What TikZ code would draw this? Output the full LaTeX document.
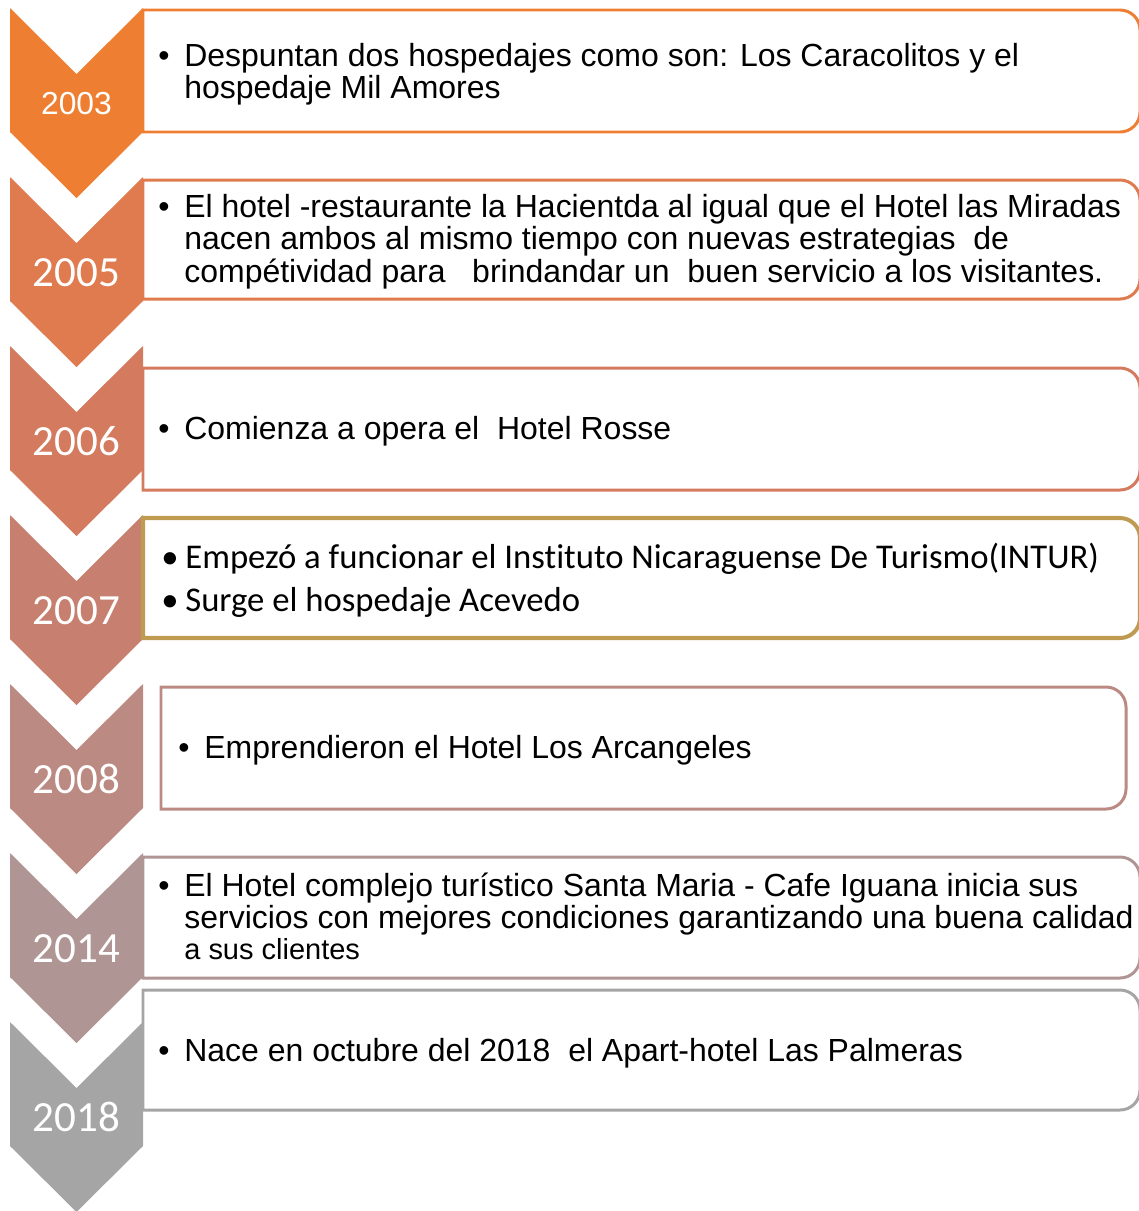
\documentclass[tikz,border=0pt]{standalone}
\usepackage{fontspec}
\setmainfont{Liberation Sans}
\newfontfamily\carlito[Ligatures=NoCommon]{Carlito}
\usepackage{tikz}
\usetikzlibrary{calc}

\definecolor{c2003}{HTML}{EE7F32}
\definecolor{c2005}{HTML}{DF7B4E}
\definecolor{c2006}{HTML}{D47A5E}
\definecolor{c2007}{HTML}{C7806F}
\definecolor{c2008}{HTML}{BB8A82}
\definecolor{c2014}{HTML}{B09595}
\definecolor{c2018}{HTML}{A5A5A5}
\definecolor{oro}{HTML}{BF9B52}

\tikzset{
	anio/.style={text=white, inner sep=0pt, anchor=base, font=\carlito\fontsize{24.5}{26}\selectfont},
	anioA/.style={text=white, inner sep=0pt, anchor=base, yshift=0.06cm, font=\fontsize{18.1}{19}\selectfont},
	punto/.style={inner sep=0pt, anchor=base west, font=\fontsize{18.2}{18.7}\selectfont},
	texto/.style={inner sep=0pt, anchor=base west, font=\fontsize{18.2}{18.7}\selectfont},
	puntoC/.style={inner sep=0pt, anchor=base west, font=\carlito\fontsize{19.75}{24.9}\selectfont},
	textoC/.style={inner sep=0pt, anchor=base west, font=\carlito\fontsize{19.75}{24.9}\selectfont},
}

\begin{document}
\begin{tikzpicture}[x=0.02cm,y=0.02cm]
		\useasboundingbox (0,0) rectangle (1139,-1211);
		% flechas con los anios
		\foreach \anio/\estilo [count=\i from 0] in {2003/anioA,2005/anio,2006/anio,2007/anio,2008/anio,2014/anio,2018/anio}{
			\pgfmathsetmacro{\ya}{8+169*\i}
			\fill[c\anio] (10,-\ya) -- ++(66.5,-66) -- ++(66.5,66) -- ++(0,-124) -- ++(-66.5,-66) -- ++(-66.5,66) -- cycle;
			\node[\estilo] (y\anio) at (76.5,{-\ya-109}) {\anio};
		}
		% cajas
		\foreach \arriba/\abajo/\izq/\der/\col/\grosor in {10/132/143/1140/c2003/1.7, 180/299/143/1140/c2005/1.7, 368/490/143/1140/c2006/1.7, 518/638/143/1140/oro/2.3, 687/809/161/1126/c2008/1.7, 857/978/143/1140/c2014/1.7, 990/1110/143/1140/c2018/1.7}
			\draw[draw=\col, line width=\grosor pt, fill=white] (\izq,-\arriba) -- ({\der-20},-\arriba) arc[start angle=90, end angle=0, radius=20] -- (\der,{-\abajo+20}) arc[start angle=0, end angle=-90, radius=20] -- (\izq,-\abajo) -- cycle;
		% textos
		\node[punto] (b1) at (158,-66) {\textbullet};
		\node[texto] (t1) at (184,-66) {\parbox[t]{20cm}{Despuntan dos hospedajes como son: Los Caracolitos y el\\hospedaje Mil Amores}};
		\node[punto] (b2) at (158,-217) {\textbullet};
		\node[texto] (t2) at (184,-217) {\parbox[t]{20cm}{El hotel -restaurante la Hacientda al igual que el Hotel las Miradas\\nacen ambos al mismo tiempo con nuevas estrategias\ \ de\\comp\'etividad para\ \ \ brindandar un\ \ buen servicio a los visitantes.}};
		\node[punto] (b3) at (158,-439) {\textbullet};
		\node[texto] (t3) at (184,-439) {Comienza a opera el\ \ Hotel Rosse};
		\node[puntoC] (b4a) at (161,-568) {\textbullet};
		\node[textoC] (t4a) at (185,-568) {Empez\'o a funcionar el Instituto Nicaraguense De Turismo(INTUR)};
		\node[puntoC] (b4b) at (161,-611) {\textbullet};
		\node[textoC] (t4b) at (185,-611) {Surge el hospedaje Acevedo};
		\node[punto] (b5) at (178,-758) {\textbullet};
		\node[texto] (t5) at (204,-758) {Emprendieron el Hotel Los Arcangeles};
		\node[punto] (b6) at (158,-896) {\textbullet};
		\node[texto] (t6) at (184,-896) {\parbox[t]{20cm}{El Hotel complejo tur\'istico Santa Maria - Cafe Iguana inicia sus\\servicios con mejores condiciones garantizando una buena calidad\\[-1.1pt]{\fontsize{16.5}{17}\selectfont a sus clientes}}};
		\node[punto] (b7) at (158,-1061) {\textbullet};
		\node[texto] (t7) at (184,-1061) {Nace en octubre del 2018\ \ el Apart-hotel Las Palmeras};
	\end{tikzpicture}
\end{document}
